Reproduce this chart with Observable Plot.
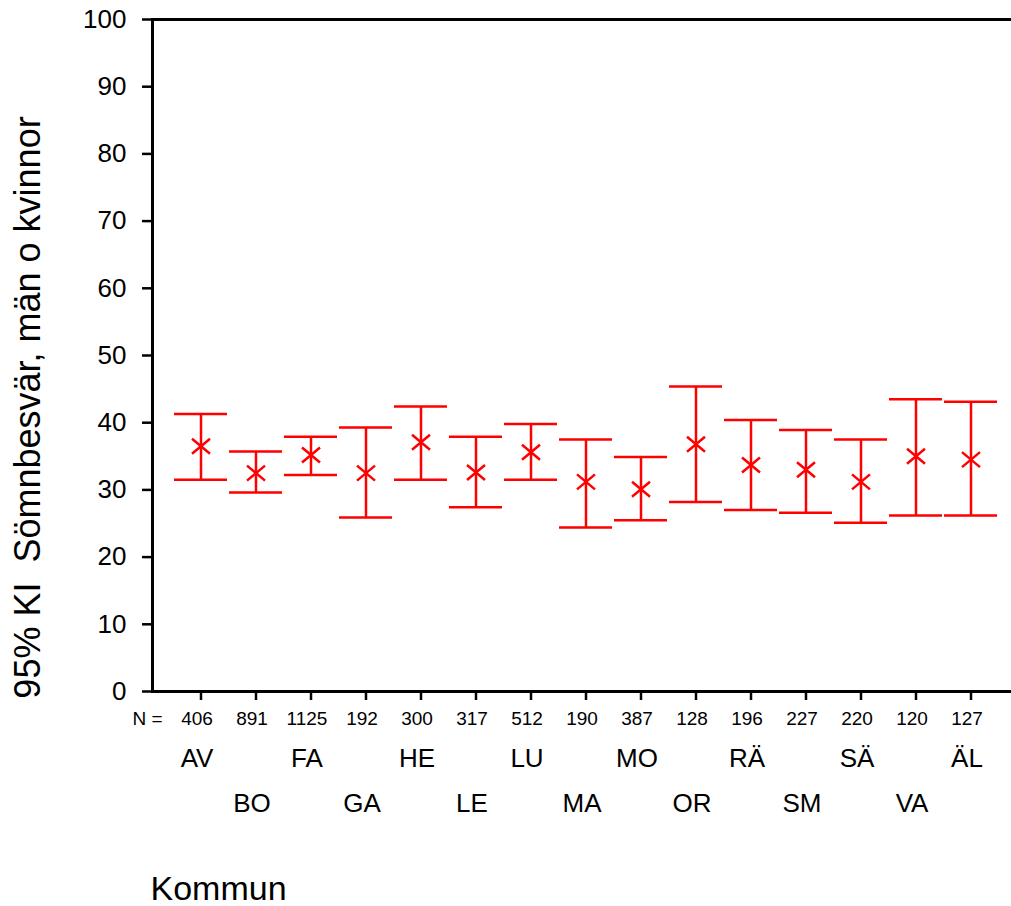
<!DOCTYPE html>
<html>
<head>
<meta charset="utf-8">
<script src="https://cdn.jsdelivr.net/npm/d3@7"></script>
<script src="https://cdn.jsdelivr.net/npm/@observablehq/plot@0.6"></script>
<style>
  html, body { margin: 0; padding: 0; background: #fff; }
  #chart svg { display: block; }
</style>
</head>
<body>
<div id="chart"></div>
<script>
// Municipalities (Kommun)
const kommun = ["AV","BO","FA","GA","HE","LE","LU","MA","MO","OR","RÄ","SM","SÄ","VA","ÄL"];
// Sample sizes (N =)
const nCount = [406, 891, 1125, 192, 300, 317, 512, 190, 387, 128, 196, 227, 220, 120, 127];
// Point estimates (%)
const meanVal = [36.5, 32.5, 35.2, 32.5, 37.1, 32.6, 35.6, 31.2, 30.1, 36.8, 33.7, 33.0, 31.2, 35.0, 34.5];
// 95% CI lower bounds
const ciLow = [31.5, 29.6, 32.2, 25.9, 31.5, 27.4, 31.5, 24.4, 25.5, 28.2, 27.0, 26.6, 25.1, 26.2, 26.2];
// 95% CI upper bounds
const ciHigh = [41.3, 35.7, 37.9, 39.3, 42.4, 37.9, 39.8, 37.5, 34.9, 45.4, 40.4, 38.9, 37.5, 43.5, 43.1];
// Y tick values
const yTicks = [0, 10, 20, 30, 40, 50, 60, 70, 80, 90, 100];

const yTitle = "95% KI  Sömnbesvär, män o kvinnor";
const xTitle = "Kommun";

const rows = kommun.map((k, i) => ({k, n: nCount[i], m: meanVal[i], lo: ciLow[i], hi: ciHigh[i]}));

const red = "#ff0000";
const crossSymbol = {
  draw(ctx) {
    const w = 9, h = 7.5;
    ctx.moveTo(-w, -h); ctx.lineTo(w, h);
    ctx.moveTo(-w, h); ctx.lineTo(w, -h);
  }
};

const chart = Plot.plot({
  width: 1011,
  height: 906,
  marginLeft: 152,
  marginRight: 0,
  marginTop: 19,
  marginBottom: 215,
  style: {fontFamily: "'Liberation Sans', Arial, sans-serif", color: "#000", background: "#fff"},
  x: {type: "band", domain: kommun, paddingInner: 0.033, paddingOuter: 0.31, align: 0.61},
  y: {domain: [0, 100]},
  marks: [
    Plot.frame({anchor: "left", strokeWidth: 3}),
    Plot.ruleY([0, 100], {strokeWidth: 3}),
    Plot.axisY({ticks: yTicks, tickSize: 10, tickPadding: 16, fontSize: 26, strokeWidth: 2.5, label: null}),
    Plot.axisX({tickSize: 9, tickFormat: () => "", strokeWidth: 2.5, label: null}),
    Plot.axisX({tickSize: 0, tickPadding: 20, fontSize: 19, dx: -4, label: null,
      tickFormat: (d) => String(nCount[kommun.indexOf(d)])}),
    Plot.axisX(kommun.filter((d, i) => i % 2 === 0), {tickSize: 0, tickPadding: 57, fontSize: 26, dx: -4, label: null}),
    Plot.axisX(kommun.filter((d, i) => i % 2 === 1), {tickSize: 0, tickPadding: 102, fontSize: 26, dx: -4, label: null}),
    Plot.text(["N ="], {frameAnchor: "bottom-left", textAnchor: "start", lineAnchor: "top", dx: -20, dy: 20, fontSize: 19}),
    Plot.text([xTitle], {frameAnchor: "bottom-left", textAnchor: "start", lineAnchor: "bottom", dx: -2, dy: 208, fontSize: 34}),
    Plot.text([yTitle], {frameAnchor: "left", rotate: -90, textAnchor: "middle", lineAnchor: "bottom", dx: -112.5, dy: 52, fontSize: 36}),
    Plot.ruleX(rows, {x: "k", y1: "lo", y2: "hi", stroke: red, strokeWidth: 2.5}),
    Plot.tickY(rows, {x: "k", y: "lo", stroke: red, strokeWidth: 2.5}),
    Plot.tickY(rows, {x: "k", y: "hi", stroke: red, strokeWidth: 2.5}),
    Plot.dot(rows, {x: "k", y: "m", symbol: crossSymbol, stroke: red, strokeWidth: 2.5, r: 9})
  ]
});
document.getElementById("chart").appendChild(chart);
</script>
</body>
</html>
